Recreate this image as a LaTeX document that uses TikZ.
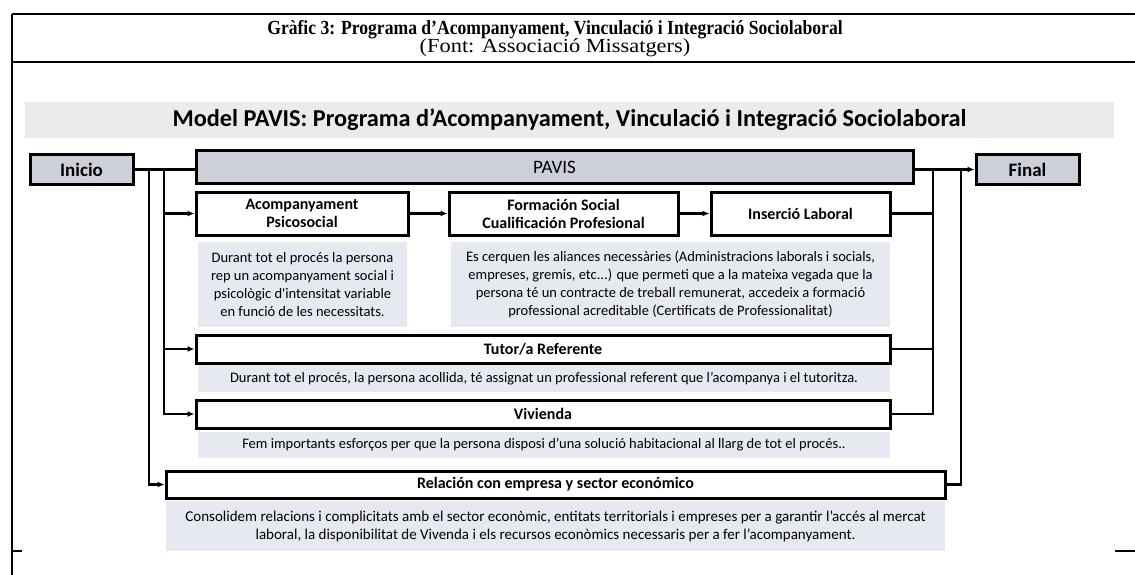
\documentclass[tikz,border=0pt]{standalone}
\usepackage{fontspec}
\setmainfont{Liberation Serif}
\newfontfamily\carl{Carlito}
\usetikzlibrary{arrows.meta}
\definecolor{boxgrey}{HTML}{CDD0D8}
\definecolor{descfill}{HTML}{E6E9F0}
\definecolor{bannerfill}{HTML}{EBEBEB}
\tikzset{
  frameline/.style={line width=1.3pt},
  greybox/.style={draw, line width=3pt, fill=boxgrey, inner sep=0pt},
  whitebox/.style={draw, line width=3pt, fill=white, inner sep=0pt, align=center,
     font=\carl\fontsize{16}{18}\selectfont\bfseries},
  descbox/.style={fill=descfill, inner sep=0pt, align=center,
     font=\carl\fontsize{14.5}{18}\selectfont},
  conn/.style={line width=2.2pt},
  mainconn/.style={line width=3.4pt},
  arr/.style={line width=2.2pt, -{Latex[length=7pt,width=6pt]}},
}
\begin{document}
\begin{tikzpicture}[x=1pt,y=-1pt]
\useasboundingbox (0,0) rectangle (1135,575);
% table frame
\draw[frameline] (12,14) -- (1135,14);
\draw[frameline] (12,14) -- (12,575);
\draw[frameline] (12,62) -- (1135,62);
\draw[frameline] (12,551) -- (22,551);
\draw[frameline] (1115,551) -- (1135,551);
% titles
\node[font=\fontsize{20}{20}\selectfont\bfseries, inner sep=0pt] (t1) at (555,30)
  {\scalebox{0.88}[1]{Gràfic 3: Programa d’Acompanyament, Vinculació i Integració Sociolaboral}};
\node[font=\fontsize{20}{20}\selectfont, inner sep=0pt] (t2) at (555,48)
  {\scalebox{1.12}[1]{(Font: Associació Missatgers)}};
% banner
\node[fill=bannerfill, minimum width=1089pt, minimum height=36pt, inner sep=0pt,
  font=\carl\fontsize{24.3}{26}\selectfont\bfseries] (banner) at (569.5,120)
  {Model PAVIS: Programa d’Acompanyament, Vinculació i Integració Sociolaboral};
% top row
\node[greybox, minimum width=103pt, minimum height=29pt, font=\carl\fontsize{19}{20}\selectfont\bfseries] (inicio) at (81.5,169.5) {Inicio};
\node[greybox, minimum width=717pt, minimum height=32pt, font=\carl\fontsize{19}{20}\selectfont] (pavis) at (554.5,167) {PAVIS};
\node[greybox, minimum width=103pt, minimum height=29pt, font=\carl\fontsize{19}{20}\selectfont\bfseries] (final) at (1027.5,169.5) {Final};
% step boxes
\node[whitebox, minimum width=212pt, minimum height=43pt] (acomp) at (302,213.5) {Acompanyament\\Psicosocial};
\node[whitebox, minimum width=229pt, minimum height=43pt] (form) at (563.5,213.5) {Formación Social\\Cualificación Profesional};
\node[whitebox, minimum width=179pt, minimum height=43pt] (ins) at (800.5,213.5) {Inserció Laboral};
\node[descbox, minimum width=209pt, minimum height=85pt] (acompd) at (302.5,284.5)
  {Durant tot el procés la persona\\rep un acompanyament social i\\psicològic d'intensitat variable\\en funció de les necessitats.};
\node[descbox, minimum width=439pt, minimum height=85pt] (formd) at (670.5,284.5)
  {Es cerquen les aliances necessàries (Administracions laborals i socials,\\empreses, gremis, etc...) que permeti que a la mateixa vegada que la\\persona té un contracte de treball remunerat, accedeix a formació\\professional acreditable (Certificats de Professionalitat)};
\node[whitebox, minimum width=694pt, minimum height=28pt] (tutor) at (543,349) {Tutor/a Referente};
\node[descbox, minimum width=692pt, minimum height=27pt] (tutord) at (544,378.5)
  {Durant tot el procés, la persona acollida, té assignat un professional referent que l’acompanya i el tutoritza.};
\node[whitebox, minimum width=694pt, minimum height=28pt] (viv) at (543,414) {Vivienda};
\node[descbox, minimum width=692pt, minimum height=26pt] (vivd) at (544,445)
  {Fem importants esforços per que la persona disposi d’una solució habitacional al llarg de tot el procés..};
\node[whitebox, minimum width=779pt, minimum height=27pt] (rel) at (555.5,484.5) {Relación con empresa y sector económico};
\node[descbox, minimum width=779pt, minimum height=50pt, font=\carl\fontsize{15}{18}\selectfont] (reld) at (555.5,526)
  {Consolidem relacions i complicitats amb el sector econòmic, entitats territorials i empreses per a garantir l’accés al mercat\\laboral, la disponibilitat de Vivenda i els recursos econòmics necessaris per a fer l’acompanyament.};
% junction coordinates
\coordinate (l1) at (149,169.5);
\coordinate (l2) at (164,169.5);
\coordinate (r1) at (933,169.5);
\coordinate (r2) at (961,169.5);
% connectors
\draw[mainconn] (inicio.east) -- (inicio.east -| pavis.west);
\draw[mainconn] (pavis.east |- final.west) -- ([xshift=-7pt]final.west);
\draw[arr] ([xshift=-8pt]final.west) -- (final.west);
\draw[arr] (l1) |- (rel.west);
\draw[arr] (l2) |- (acomp.west);
\draw[arr] (l2) |- (tutor.west);
\draw[arr] (l2) |- (viv.west);
\draw[arr] (acomp.east) -- (form.west);
\draw[arr] (form.east) -- (ins.west);
\draw[conn] (ins.east) -| (r1);
\draw[conn] (tutor.east) -| (r1);
\draw[conn] (viv.east) -| (r1);
\draw[conn] (rel.east) -| (r2);
\end{tikzpicture}
\end{document}
